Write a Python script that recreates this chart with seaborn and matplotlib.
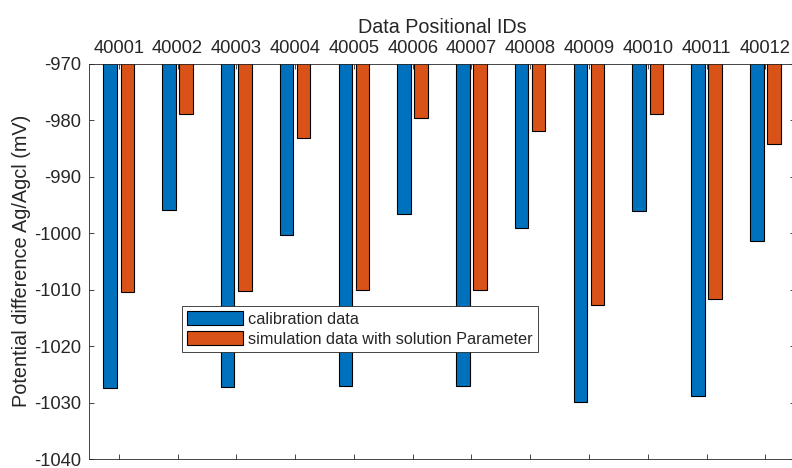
import matplotlib
matplotlib.use("Agg")
import matplotlib.pyplot as plt
import pandas as pd
import seaborn as sns
from matplotlib.patches import Patch

# Measured potentials per positional ID (mV)
ids = ["40001", "40002", "40003", "40004", "40005", "40006",
       "40007", "40008", "40009", "40010", "40011", "40012"]
calibration = [-1027.5, -995.9, -1027.3, -1000.3, -1027.1, -996.7,
               -1027.1, -999.1, -1029.9, -996.1, -1028.9, -1001.5]
simulation = [-1010.4, -978.9, -1010.3, -983.2, -1010.0, -979.6,
              -1010.1, -982.0, -1012.7, -979.0, -1011.7, -984.3]
series_names = ["calibration data", "simulation data with solution Parameter"]
colors = ["#0072BD", "#D95319"]
y_ticks = [-970, -980, -990, -1000, -1010, -1020, -1030, -1040]

df = pd.DataFrame({
    "id": ids * 2,
    "value": calibration + simulation,
    "series": [series_names[0]] * len(ids) + [series_names[1]] * len(ids),
})

sns.set_style("white")
plt.rcParams["font.family"] = ["Liberation Sans", "DejaVu Sans"]
plt.rcParams["axes.unicode_minus"] = False

fig = plt.figure(figsize=(7.92, 4.68), dpi=100)
ax = fig.add_axes([0.1128, 0.0192, 0.8906, 0.8451])

sns.barplot(data=df, x="id", y="value", hue="series", order=ids,
            hue_order=series_names, palette=colors, errorbar=None,
            width=0.58, gap=0.21, edgecolor="black", linewidth=0.8,
            saturation=1, ax=ax, legend=False)

ax.set_ylim(-1040, -970)
ax.set_yticks(y_ticks)
ax.set_yticklabels([str(v) for v in y_ticks])
ax.set_xlim(-0.5, len(ids) - 0.5)

axis_color = "#262626"
for side in ["top", "bottom", "left", "right"]:
    ax.spines[side].set_visible(True)
    ax.spines[side].set_color(axis_color)
    ax.spines[side].set_linewidth(0.6)

ax.xaxis.tick_top()
ax.xaxis.set_label_position("top")
ax.tick_params(axis="x", which="both", top=True, bottom=True, labeltop=True,
               labelbottom=False, direction="in", length=3.5, width=0.6,
               color=axis_color, labelsize=13.2, pad=5, labelcolor="#262626")
ax.tick_params(axis="y", which="both", left=True, right=True, direction="in",
               length=3.5, width=0.6, color=axis_color, labelsize=13.2, pad=6,
               labelcolor="#262626")

ax.set_xlabel("Data Positional IDs", fontsize=14.2, color="#262626", labelpad=5)
ax.set_ylabel("Potential difference Ag/Agcl (mV)", fontsize=14.3,
              color="#262626", labelpad=2)

handles = [Patch(facecolor=c, edgecolor="black", linewidth=0.8) for c in colors]
leg = ax.legend(handles, series_names, loc="lower left",
                bbox_to_anchor=(0.131, 0.27), fontsize=11.7, frameon=True,
                fancybox=False, edgecolor=axis_color, framealpha=1,
                handlelength=3.4, handleheight=0.95, handletextpad=0.3,
                labelspacing=0.25, borderpad=0.35, borderaxespad=0)
leg.get_frame().set_linewidth(0.6)

fig.savefig("out.png", dpi=100)
